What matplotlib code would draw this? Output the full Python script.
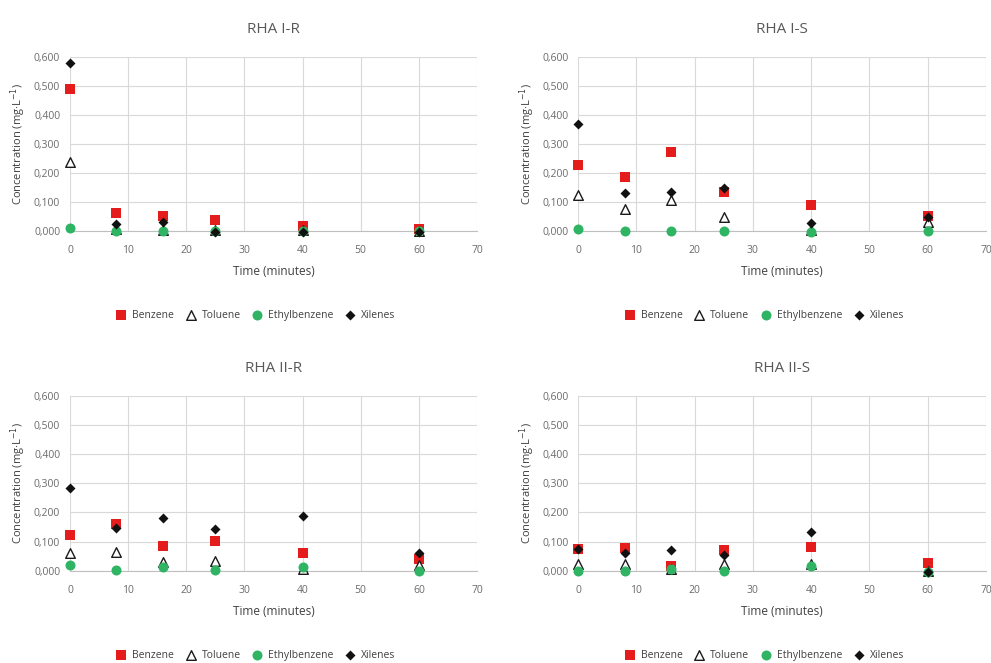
import matplotlib.pyplot as plt
from matplotlib.ticker import FuncFormatter

plt.rcParams['font.family'] = ['Open Sans', 'DejaVu Sans']

time = [0, 8, 16, 25, 40, 60]
species = ['Benzene', 'Toluene', 'Ethylbenzene', 'Xilenes']

# concentrations (mg/L)
rha1r = {
    'Benzene': [0.489, 0.060, 0.051, 0.037, 0.016, 0.006],
    'Toluene': [0.238, 0.005, 0.004, 0.002, 0.001, 0.000],
    'Ethylbenzene': [0.010, 0.000, 0.000, 0.000, 0.000, 0.000],
    'Xilenes': [0.581, 0.022, 0.029, -0.004, -0.004, -0.005],
}
rha1s = {
    'Benzene': [0.226, 0.187, 0.273, 0.133, 0.089, 0.052],
    'Toluene': [0.123, 0.074, 0.106, 0.047, 0.002, 0.030],
    'Ethylbenzene': [0.006, 0.000, 0.000, 0.000, -0.004, 0.000],
    'Xilenes': [0.370, 0.129, 0.135, 0.146, 0.028, 0.047],
}
rha2r = {
    'Benzene': [0.123, 0.160, 0.086, 0.101, 0.061, 0.042],
    'Toluene': [0.062, 0.065, 0.031, 0.033, 0.008, 0.020],
    'Ethylbenzene': [0.019, 0.002, 0.014, 0.002, 0.014, 0.000],
    'Xilenes': [0.285, 0.148, 0.182, 0.142, 0.188, 0.060],
}
rha2s = {
    'Benzene': [0.076, 0.077, 0.017, 0.073, 0.081, 0.026],
    'Toluene': [0.023, 0.025, 0.005, 0.022, 0.025, 0.000],
    'Ethylbenzene': [0.000, 0.000, 0.005, 0.000, 0.016, -0.004],
    'Xilenes': [0.075, 0.062, 0.070, 0.056, 0.132, -0.003],
}

panels = [('RHA I-R', rha1r), ('RHA I-S', rha1s), ('RHA II-R', rha2r), ('RHA II-S', rha2s)]

styles = {
    'Benzene': dict(marker='s', s=62, color='#e51c1c', linewidths=0),
    'Toluene': dict(marker='^', s=48, facecolors='white', edgecolors='#1a1a1a', linewidths=1.0),
    'Ethylbenzene': dict(marker='o', s=52, color='#2fb463', linewidths=0),
    'Xilenes': dict(marker='D', s=26, color='#111111', linewidths=0),
}

positions = [
    [0.0706, 0.652, 0.4107, 0.262],
    [0.5833, 0.652, 0.4117, 0.262],
    [0.0706, 0.139, 0.4107, 0.264],
    [0.5833, 0.139, 0.4117, 0.264],
]

grey = '#6b6b6b'
fig = plt.figure(figsize=(9.91, 6.63), dpi=100)

for (title, data), pos in zip(panels, positions):
    ax = fig.add_axes(pos)
    for name in species:
        ax.scatter(time, data[name], label=name, zorder=3, clip_on=False, **styles[name])
    ax.set_xlim(0, 70)
    ax.set_ylim(0, 0.6)
    ax.set_xticks(range(0, 71, 10))
    ax.set_yticks([0, 0.1, 0.2, 0.3, 0.4, 0.5, 0.6])
    ax.yaxis.set_major_formatter(FuncFormatter(lambda v, p: ('%.3f' % v).replace('.', ',')))
    ax.grid(True, color='#d9d9d9', linewidth=0.8)
    ax.set_axisbelow(True)
    for side in ['top', 'right', 'left']:
        ax.spines[side].set_visible(False)
    ax.spines['bottom'].set_color('#bfbfbf')
    ax.tick_params(length=0, labelsize=7.5, labelcolor=grey)
    ax.tick_params(axis='x', pad=10)
    ax.tick_params(axis='y', pad=7)
    ax.set_title(title, fontsize=11, color='#595959', pad=17)
    ax.set_xlabel('Time (minutes)', fontsize=8.5, color='#404040', labelpad=7)
    ax.set_ylabel('Concentration (mg·L$^{-1}$)', fontsize=8, color='#404040', labelpad=4)
    ax.legend(loc='upper center', bbox_to_anchor=(0.45, -0.40), ncol=4, frameon=False,
              fontsize=7.5, handletextpad=0.05, columnspacing=0.6, markerscale=1.0,
              labelcolor='#404040')

fig.savefig('out.png', dpi=100)
